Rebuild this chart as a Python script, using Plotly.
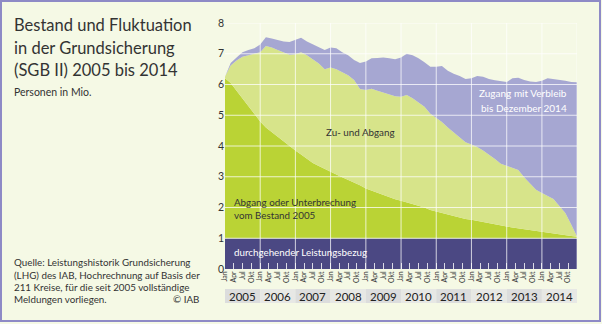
import plotly.graph_objects as go
import pandas as pd

# ---- data (Mio. Personen), bimonthly readings Jan 2005 .. Dec 2014 ----
years = list(range(2005, 2015))
month_dates = [f"{y}-{m:02d}-01" for y in years for m in (1, 3, 5, 7, 9, 11)] + ["2014-12-31"]

# top of "durchgehender Leistungsbezug"
durchgehend = [1.0] * len(month_dates)

# top of "Abgang oder Unterbrechung vom Bestand 2005" (remaining 2005 stock)
bestand_2005 = [
    6.20, 6.05, 5.80, 5.55, 5.30, 5.05,
    4.80, 4.60, 4.45, 4.30, 4.12, 3.98,
    3.85, 3.72, 3.58, 3.45, 3.35, 3.25,
    3.15, 3.07, 2.98, 2.90, 2.82, 2.72,
    2.62, 2.55, 2.48, 2.40, 2.33, 2.27,
    2.22, 2.17, 2.12, 2.06, 2.00, 1.92,
    1.87, 1.82, 1.77, 1.72, 1.67, 1.63,
    1.60, 1.56, 1.52, 1.48, 1.45, 1.41,
    1.38, 1.35, 1.32, 1.29, 1.27, 1.24,
    1.22, 1.19, 1.16, 1.13, 1.10, 1.07, 1.05,
]

# top of "Zu- und Abgang"
zu_und_abgang = [
    6.25, 6.62, 6.78, 6.90, 6.95, 7.00,
    7.05, 7.25, 7.20, 7.12, 7.05, 6.97,
    6.98, 7.05, 6.95, 6.82, 6.68, 6.50,
    6.55, 6.50, 6.40, 6.30, 6.15, 5.85,
    5.82, 5.86, 5.80, 5.74, 5.68, 5.62,
    5.60, 5.66, 5.55, 5.42, 5.28, 5.05,
    4.92, 4.78, 4.60, 4.45, 4.30, 4.12,
    4.05, 3.97, 3.85, 3.72, 3.58, 3.42,
    3.35, 3.30, 3.22, 2.98, 2.78, 2.58,
    2.47, 2.38, 2.28, 2.05, 1.82, 1.45, 1.06,
]

# top of "Zugang mit Verbleib bis Dezember 2014" (total stock)
gesamtbestand = [
    6.25, 6.70, 6.88, 7.05, 7.12, 7.18,
    7.30, 7.54, 7.50, 7.45, 7.40, 7.38,
    7.45, 7.52, 7.40, 7.30, 7.20, 7.12,
    7.20, 7.18, 7.05, 6.95, 6.80, 6.70,
    6.75, 6.85, 6.86, 6.88, 6.85, 6.82,
    6.88, 7.00, 6.95, 6.85, 6.72, 6.58,
    6.58, 6.60, 6.45, 6.35, 6.28, 6.18,
    6.20, 6.28, 6.25, 6.18, 6.14, 6.10,
    6.08, 6.20, 6.22, 6.15, 6.10, 6.08,
    6.12, 6.20, 6.18, 6.15, 6.12, 6.08, 6.07,
]

quarter_labels = ["Jan", "Apr", "Jul", "Okt"]
year_labels = [str(y) for y in years]

# ---- styling ----
W, H = 602, 324
L, R, T, B = 225, 577, 23, 269
BG = "#f5f9e5"
C_DARK = "#4b4883"
C_GREEN = "#bad335"
C_LIGHT = "#d7e48a"
C_PURPLE = "#a6a7d2"
C_BORDER = "#8e8ac6"
TXT = "#333333"
FONT = "Lato"


def px(x, y):
    return (x - L) / (R - L), (B - y) / (B - T)


fig = go.Figure()
x = pd.to_datetime(month_dates)

fig.add_trace(go.Scatter(x=x, y=durchgehend, mode="lines", line=dict(width=0),
                         fill="tozeroy", fillcolor=C_DARK, hoverinfo="skip"))
fig.add_trace(go.Scatter(x=x, y=bestand_2005, mode="lines", line=dict(width=0),
                         fill="tonexty", fillcolor=C_GREEN, hoverinfo="skip"))
fig.add_trace(go.Scatter(x=x, y=zu_und_abgang, mode="lines", line=dict(width=0),
                         fill="tonexty", fillcolor=C_LIGHT, hoverinfo="skip"))
fig.add_trace(go.Scatter(x=x, y=gesamtbestand, mode="lines", line=dict(width=0),
                         fill="tonexty", fillcolor=C_PURPLE, hoverinfo="skip"))

shapes = []
# horizontal gridlines
for v in range(1, 9):
    shapes.append(dict(type="line", xref="paper", yref="y", x0=0, x1=1, y0=v, y1=v,
                       line=dict(color="rgba(255,255,255,0.75)", width=1), layer="above"))
# vertical gridlines at year boundaries
for yv in years[1:] + [2015]:
    shapes.append(dict(type="line", xref="x", yref="y", x0=f"{yv}-01-01", x1=f"{yv}-01-01",
                       y0=0, y1=8, line=dict(color="rgba(255,255,255,0.75)", width=1),
                       layer="above"))
# year boxes
for i, yv in enumerate(years):
    y0 = px(0, 303)[1]
    y1 = px(0, 289)[1]
    shapes.append(dict(type="rect", xref="x", yref="paper",
                       x0=f"{yv}-01-01", x1=f"{yv + 1}-01-01", y0=y0, y1=y1,
                       fillcolor="#dcdddd" if i % 2 == 0 else "#e7e8e5",
                       line=dict(width=0), layer="below"))
# frame
fx0, fy0 = px(1, 321)
fx1, fy1 = px(600, 1)
shapes.append(dict(type="rect", xref="paper", yref="paper", x0=fx0, x1=fx1, y0=fy0, y1=fy1,
                   line=dict(color=C_BORDER, width=2), fillcolor="rgba(0,0,0,0)", layer="above"))

ann = []


def text(s, xpx, ypx, size, color=TXT, anchor="left"):
    xx, yy = px(xpx, ypx)
    ann.append(dict(text=s, x=xx, y=yy, xref="paper", yref="paper", showarrow=False,
                    xanchor=anchor, yanchor="middle",
                    font=dict(family=FONT, size=size, color=color)))


text("Bestand und Fluktuation", 12, 25, 16.5)
text("in der Grundsicherung", 12, 47.5, 16.5)
text("(SGB II) 2005 bis 2014", 12, 70, 16.5)
text("Personen in Mio.", 12, 92, 10.5)

text("Quelle: Leistungshistorik Grundsicherung", 12, 262, 9.8)
text("(LHG) des IAB, Hochrechnung auf Basis der", 12, 274.5, 9.8)
text("211 Kreise, für die seit 2005 vollständige", 12, 286.5, 9.8)
text("Meldungen vorliegen.", 12, 298.5, 9.8)
text("© IAB", 201, 298.5, 9.8, anchor="right")

text("Zugang mit Verbleib", 569, 93, 10, color="white", anchor="right")
text("bis Dezember 2014", 569, 108, 10, color="white", anchor="right")
text("Zu- und Abgang", 324, 132, 9.8)
text("Abgang oder Unterbrechung", 232, 202, 9.8)
text("vom Bestand 2005", 232, 214.5, 9.8)
text("durchgehender Leistungsbezug", 232, 252, 9.8, color="white")

for yv in years:
    ann.append(dict(text=str(yv), x=f"{yv}-07-02", y=px(0, 296)[1], xref="x", yref="paper",
                    showarrow=False, xanchor="center", yanchor="middle",
                    font=dict(family=FONT, size=11.5, color="#222222")))

tickvals = [f"{y}-{m:02d}-01" for y in years for m in (1, 4, 7, 10)]
ticktext = quarter_labels * len(years)

fig.update_layout(
    width=W, height=H,
    margin=dict(l=L, r=W - R, t=T, b=H - B, pad=0),
    paper_bgcolor=BG, plot_bgcolor=BG,
    showlegend=False,
    shapes=shapes, annotations=ann,
    xaxis=dict(type="date", range=["2005-01-01", "2014-12-31"], showgrid=False, zeroline=False,
               tickmode="array", tickvals=tickvals, ticktext=ticktext, tickangle=-90,
               ticks="inside", ticklen=6, tickcolor="rgba(255,255,255,0.8)", tickwidth=1,
               tickfont=dict(family=FONT, size=7, color=TXT), showline=False, layer="above traces"),
    yaxis=dict(range=[0, 8], showgrid=False, zeroline=False, tickvals=list(range(0, 9)),
               tickfont=dict(family=FONT, size=10.5, color=TXT), showline=False),
)

fig.write_html("out.html")
